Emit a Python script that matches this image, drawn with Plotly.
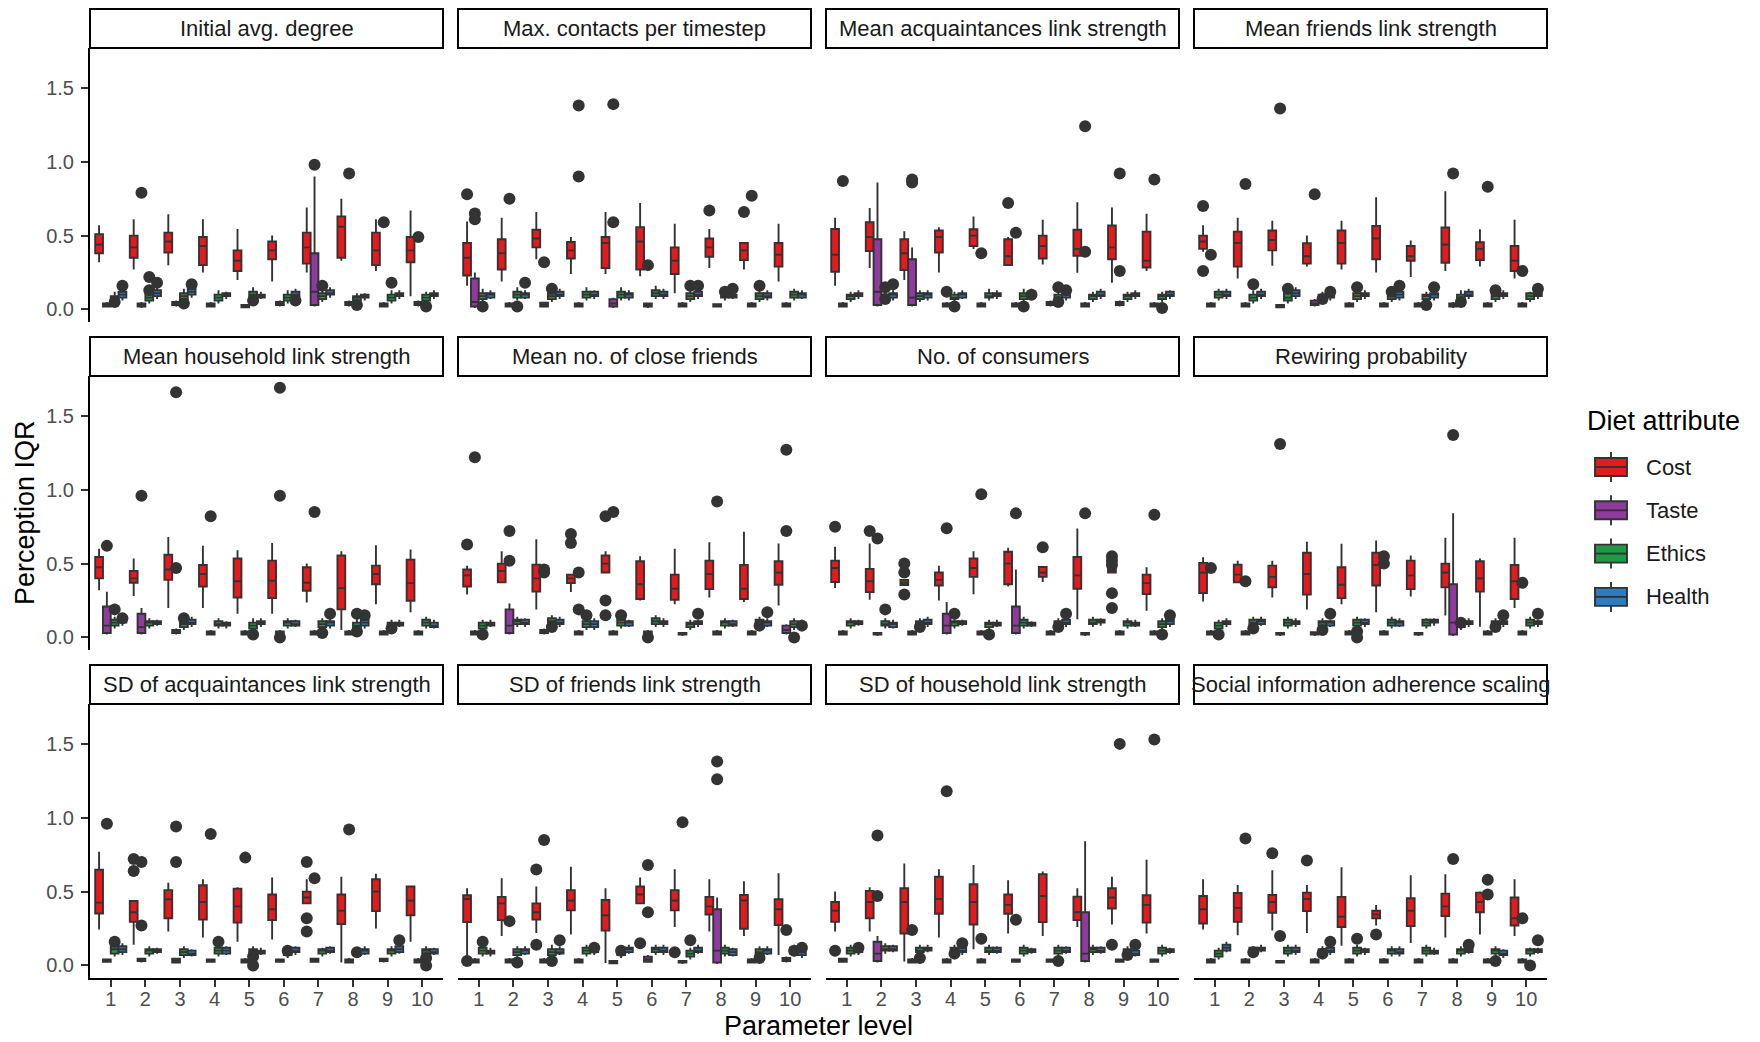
import plotly.graph_objects as go

# ---------------- data ----------------
PANELS = ["Initial avg. degree", "Max. contacts per timestep", "Mean acquaintances link strength",
          "Mean friends link strength", "Mean household link strength", "Mean no. of close friends",
          "No. of consumers", "Rewiring probability", "SD of acquaintances link strength",
          "SD of friends link strength", "SD of household link strength",
          "Social information adherence scaling"]
LEVELS = ["1", "2", "3", "4", "5", "6", "7", "8", "9", "10"]
ATTRIBUTES = ["Cost", "Taste", "Ethics", "Health"]
Y_TICKS = [0.0, 0.5, 1.0, 1.5]
Y_TICK_TEXT = ["0.0", "0.5", "1.0", "1.5"]

# per panel, per level: (lower whisker, q1, median, q3, upper whisker)
COST = [
    [(0.32, 0.38, 0.44, 0.51, 0.57), (0.27, 0.35, 0.42, 0.50, 0.61), (0.30, 0.385, 0.46, 0.52, 0.645),
     (0.25, 0.30, 0.43, 0.49, 0.61), (0.20, 0.26, 0.33, 0.40, 0.545), (0.19, 0.34, 0.40, 0.46, 0.50),
     (0.25, 0.31, 0.42, 0.52, 0.69), (0.33, 0.35, 0.56, 0.63, 0.75), (0.26, 0.30, 0.40, 0.52, 0.61),
     (0.09, 0.32, 0.40, 0.49, 0.67)],
    [(0.16, 0.23, 0.35, 0.45, 0.595), (0.19, 0.27, 0.38, 0.475, 0.62), (0.34, 0.42, 0.48, 0.54, 0.66),
     (0.24, 0.345, 0.40, 0.457, 0.49), (0.24, 0.28, 0.45, 0.49, 0.66), (0.225, 0.27, 0.46, 0.557, 0.72),
     (0.11, 0.24, 0.33, 0.42, 0.58), (0.28, 0.357, 0.42, 0.48, 0.545), (0.27, 0.334, 0.40, 0.45, 0.45),
     (0.19, 0.29, 0.37, 0.45, 0.58)],
    [(0.16, 0.255, 0.37, 0.545, 0.62), (0.28, 0.395, 0.49, 0.59, 0.686), (0.20, 0.266, 0.38, 0.475, 0.53),
     (0.25, 0.386, 0.49, 0.534, 0.557), (0.41, 0.43, 0.50, 0.543, 0.63), (0.30, 0.30, 0.36, 0.475, 0.49),
     (0.305, 0.345, 0.43, 0.50, 0.607), (0.248, 0.364, 0.41, 0.54, 0.725), (0.18, 0.34, 0.42, 0.568, 0.69),
     (0.26, 0.284, 0.33, 0.527, 0.648)],
    [(0.39, 0.41, 0.46, 0.50, 0.57), (0.21, 0.29, 0.45, 0.527, 0.62), (0.295, 0.40, 0.47, 0.534, 0.60),
     (0.29, 0.31, 0.36, 0.448, 0.50), (0.27, 0.31, 0.45, 0.534, 0.60), (0.25, 0.34, 0.48, 0.566, 0.76),
     (0.22, 0.33, 0.36, 0.43, 0.466), (0.26, 0.316, 0.44, 0.555, 0.80), (0.29, 0.334, 0.41, 0.455, 0.543),
     (0.21, 0.26, 0.33, 0.43, 0.607)],
    [(0.32, 0.40, 0.475, 0.545, 0.60), (0.28, 0.37, 0.40, 0.45, 0.534), (0.20, 0.39, 0.46, 0.56, 0.68),
     (0.20, 0.345, 0.43, 0.49, 0.62), (0.16, 0.27, 0.38, 0.534, 0.59), (0.16, 0.266, 0.384, 0.52, 0.64),
     (0.236, 0.316, 0.37, 0.475, 0.50), (0.05, 0.19, 0.334, 0.555, 0.584), (0.225, 0.36, 0.43, 0.486, 0.625),
     (0.17, 0.248, 0.368, 0.527, 0.595)],
    [(0.29, 0.345, 0.42, 0.46, 0.486), (0.373, 0.373, 0.45, 0.50, 0.584), (0.19, 0.31, 0.40, 0.493, 0.664),
     (0.307, 0.368, 0.40, 0.425, 0.425), (0.44, 0.44, 0.50, 0.555, 0.584), (0.25, 0.26, 0.36, 0.516, 0.55),
     (0.225, 0.255, 0.33, 0.425, 0.60), (0.27, 0.327, 0.43, 0.52, 0.645), (0.24, 0.26, 0.33, 0.49, 0.716),
     (0.216, 0.357, 0.44, 0.516, 0.636)],
    [(0.334, 0.375, 0.47, 0.52, 0.614), (0.255, 0.307, 0.38, 0.464, 0.636), (0.35, 0.355, 0.37, 0.39, 0.39),
     (0.25, 0.352, 0.39, 0.44, 0.486), (0.293, 0.41, 0.47, 0.534, 0.584), (0.345, 0.36, 0.50, 0.58, 0.607),
     (0.375, 0.41, 0.44, 0.477, 0.477), (0.123, 0.33, 0.42, 0.545, 0.738), (0.44, 0.44, 0.455, 0.47, 0.47),
     (0.18, 0.293, 0.368, 0.425, 0.475)],
    [(0.243, 0.30, 0.44, 0.505, 0.543), (0.373, 0.373, 0.425, 0.493, 0.52), (0.27, 0.34, 0.41, 0.486, 0.52),
     (0.19, 0.29, 0.43, 0.573, 0.648), (0.225, 0.266, 0.357, 0.475, 0.634), (0.17, 0.352, 0.49, 0.573, 0.657),
     (0.277, 0.327, 0.42, 0.52, 0.555), (0.148, 0.34, 0.44, 0.50, 0.675), (0.073, 0.31, 0.40, 0.516, 0.534),
     (0.20, 0.26, 0.38, 0.49, 0.675)],
    [(0.243, 0.352, 0.425, 0.648, 0.77), (0.14, 0.295, 0.36, 0.436, 0.443), (0.23, 0.32, 0.448, 0.51, 0.56),
     (0.19, 0.31, 0.43, 0.543, 0.584), (0.16, 0.29, 0.40, 0.52, 0.53), (0.175, 0.307, 0.38, 0.48, 0.595),
     (0.42, 0.42, 0.46, 0.50, 0.584), (0.02, 0.28, 0.37, 0.48, 0.60), (0.25, 0.368, 0.50, 0.584, 0.62),
     (0.16, 0.34, 0.44, 0.534, 0.54)],
    [(0.04, 0.293, 0.45, 0.475, 0.523), (0.20, 0.307, 0.42, 0.464, 0.59), (0.22, 0.31, 0.36, 0.42, 0.534),
     (0.21, 0.373, 0.44, 0.51, 0.668), (0.016, 0.236, 0.34, 0.443, 0.523), (0.42, 0.42, 0.48, 0.534, 0.595),
     (0.26, 0.373, 0.44, 0.51, 0.652), (0.23, 0.345, 0.40, 0.464, 0.584), (0.20, 0.248, 0.44, 0.477, 0.57),
     (0.07, 0.273, 0.38, 0.448, 0.625)],
    [(0.23, 0.295, 0.37, 0.43, 0.50), (0.23, 0.32, 0.43, 0.505, 0.53), (0.027, 0.216, 0.43, 0.523, 0.69),
     (0.19, 0.35, 0.45, 0.60, 0.652), (0.11, 0.277, 0.43, 0.55, 0.68), (0.216, 0.35, 0.41, 0.48, 0.577),
     (0.20, 0.293, 0.47, 0.618, 0.636), (0.26, 0.307, 0.36, 0.466, 0.523), (0.277, 0.386, 0.46, 0.523, 0.60),
     (0.216, 0.29, 0.41, 0.475, 0.716)],
    [(0.243, 0.284, 0.38, 0.47, 0.584), (0.205, 0.295, 0.39, 0.49, 0.545), (0.236, 0.357, 0.43, 0.477, 0.645),
     (0.22, 0.368, 0.45, 0.493, 0.545), (0.134, 0.26, 0.33, 0.464, 0.664), (0.27, 0.32, 0.345, 0.37, 0.41),
     (0.152, 0.266, 0.37, 0.455, 0.61), (0.19, 0.334, 0.40, 0.486, 0.618), (0.21, 0.36, 0.43, 0.493, 0.50),
     (0.20, 0.27, 0.32, 0.46, 0.584)],
]

TASTE = [
    [(0.015, 0.02, 0.03, 0.04, 0.05), (0.01, 0.02, 0.025, 0.04, 0.05), (0.02, 0.03, 0.04, 0.05, 0.06),
     (0.015, 0.02, 0.03, 0.04, 0.05), (0.01, 0.015, 0.02, 0.03, 0.035), (0.02, 0.03, 0.04, 0.05, 0.06),
     (0.02, 0.03, 0.12, 0.38, 0.90), (0.02, 0.03, 0.04, 0.05, 0.06), (0.015, 0.02, 0.03, 0.04, 0.05),
     (0.02, 0.03, 0.04, 0.05, 0.06)],
    [(0.01, 0.02, 0.05, 0.21, 0.25), (0.015, 0.02, 0.03, 0.04, 0.05), (0.015, 0.02, 0.03, 0.045, 0.05),
     (0.015, 0.02, 0.03, 0.04, 0.05), (0.01, 0.02, 0.04, 0.07, 0.08), (0.01, 0.02, 0.03, 0.04, 0.045),
     (0.015, 0.02, 0.03, 0.04, 0.05), (0.015, 0.02, 0.03, 0.035, 0.04), (0.015, 0.02, 0.03, 0.04, 0.05),
     (0.015, 0.02, 0.03, 0.04, 0.05)],
    [(0.015, 0.02, 0.03, 0.04, 0.05), (0.02, 0.03, 0.12, 0.475, 0.86), (0.02, 0.03, 0.08, 0.34, 0.42),
     (0.015, 0.02, 0.03, 0.04, 0.05), (0.015, 0.02, 0.03, 0.04, 0.05), (0.015, 0.02, 0.03, 0.04, 0.05),
     (0.02, 0.03, 0.04, 0.05, 0.06), (0.015, 0.02, 0.03, 0.04, 0.05), (0.02, 0.03, 0.04, 0.05, 0.06),
     (0.015, 0.02, 0.03, 0.04, 0.05)],
    [(0.015, 0.02, 0.03, 0.04, 0.05), (0.015, 0.02, 0.03, 0.04, 0.05), (0.01, 0.015, 0.02, 0.03, 0.035),
     (0.02, 0.03, 0.04, 0.06, 0.07), (0.015, 0.02, 0.03, 0.04, 0.05), (0.015, 0.02, 0.03, 0.04, 0.05),
     (0.015, 0.02, 0.03, 0.04, 0.05), (0.01, 0.02, 0.03, 0.04, 0.05), (0.015, 0.02, 0.03, 0.04, 0.05),
     (0.015, 0.02, 0.03, 0.04, 0.05)],
    [(0.02, 0.03, 0.08, 0.21, 0.31), (0.02, 0.03, 0.07, 0.16, 0.20), (0.02, 0.03, 0.04, 0.05, 0.06),
     (0.015, 0.02, 0.03, 0.04, 0.05), (0.015, 0.02, 0.03, 0.04, 0.05), (0.015, 0.02, 0.03, 0.04, 0.05),
     (0.015, 0.02, 0.03, 0.04, 0.05), (0.015, 0.02, 0.03, 0.04, 0.05), (0.015, 0.02, 0.03, 0.04, 0.05),
     (0.015, 0.02, 0.03, 0.04, 0.05)],
    [(0.015, 0.02, 0.03, 0.04, 0.05), (0.02, 0.03, 0.08, 0.19, 0.23), (0.02, 0.03, 0.04, 0.05, 0.06),
     (0.015, 0.02, 0.03, 0.04, 0.05), (0.015, 0.02, 0.03, 0.04, 0.05), (0.015, 0.02, 0.03, 0.04, 0.05),
     (0.01, 0.02, 0.025, 0.03, 0.035), (0.015, 0.02, 0.03, 0.04, 0.05), (0.015, 0.02, 0.03, 0.04, 0.05),
     (0.02, 0.03, 0.05, 0.08, 0.09)],
    [(0.015, 0.02, 0.03, 0.04, 0.05), (0.01, 0.02, 0.025, 0.03, 0.035), (0.015, 0.02, 0.03, 0.04, 0.05),
     (0.02, 0.03, 0.08, 0.16, 0.24), (0.015, 0.02, 0.03, 0.04, 0.05), (0.02, 0.03, 0.08, 0.21, 0.46),
     (0.015, 0.02, 0.03, 0.04, 0.05), (0.01, 0.02, 0.025, 0.03, 0.035), (0.015, 0.02, 0.03, 0.04, 0.05),
     (0.015, 0.02, 0.03, 0.04, 0.05)],
    [(0.015, 0.02, 0.03, 0.04, 0.05), (0.015, 0.02, 0.03, 0.04, 0.05), (0.01, 0.02, 0.025, 0.03, 0.035),
     (0.01, 0.02, 0.025, 0.035, 0.04), (0.015, 0.02, 0.03, 0.04, 0.05), (0.015, 0.02, 0.03, 0.04, 0.05),
     (0.01, 0.02, 0.025, 0.03, 0.035), (0.01, 0.02, 0.10, 0.36, 0.84), (0.015, 0.02, 0.03, 0.04, 0.05),
     (0.015, 0.02, 0.03, 0.04, 0.05)],
    [(0.02, 0.025, 0.03, 0.04, 0.045), (0.02, 0.03, 0.04, 0.045, 0.05), (0.015, 0.02, 0.03, 0.045, 0.05),
     (0.02, 0.025, 0.03, 0.04, 0.045), (0.015, 0.02, 0.03, 0.04, 0.05), (0.02, 0.025, 0.03, 0.04, 0.045),
     (0.02, 0.025, 0.03, 0.045, 0.05), (0.015, 0.02, 0.03, 0.04, 0.05), (0.02, 0.03, 0.04, 0.045, 0.05),
     (0.015, 0.02, 0.03, 0.04, 0.05)],
    [(0.015, 0.02, 0.03, 0.04, 0.05), (0.015, 0.02, 0.03, 0.04, 0.05), (0.015, 0.02, 0.03, 0.04, 0.05),
     (0.015, 0.02, 0.03, 0.04, 0.05), (0.01, 0.015, 0.02, 0.03, 0.035), (0.02, 0.025, 0.04, 0.06, 0.07),
     (0.01, 0.02, 0.025, 0.03, 0.035), (0.01, 0.02, 0.10, 0.38, 0.46), (0.015, 0.02, 0.03, 0.04, 0.05),
     (0.02, 0.03, 0.04, 0.05, 0.06)],
    [(0.02, 0.025, 0.03, 0.045, 0.05), (0.02, 0.03, 0.08, 0.16, 0.20), (0.015, 0.02, 0.03, 0.04, 0.05),
     (0.015, 0.02, 0.03, 0.04, 0.05), (0.015, 0.02, 0.03, 0.04, 0.05), (0.02, 0.025, 0.03, 0.04, 0.045),
     (0.02, 0.025, 0.03, 0.04, 0.045), (0.02, 0.03, 0.08, 0.36, 0.84), (0.02, 0.025, 0.03, 0.04, 0.045),
     (0.02, 0.025, 0.03, 0.04, 0.045)],
    [(0.015, 0.02, 0.03, 0.04, 0.05), (0.015, 0.02, 0.03, 0.04, 0.05), (0.015, 0.02, 0.025, 0.03, 0.035),
     (0.015, 0.02, 0.03, 0.04, 0.05), (0.015, 0.02, 0.03, 0.04, 0.05), (0.015, 0.02, 0.03, 0.04, 0.05),
     (0.015, 0.02, 0.03, 0.04, 0.05), (0.015, 0.02, 0.03, 0.04, 0.05), (0.015, 0.02, 0.03, 0.04, 0.05),
     (0.015, 0.02, 0.03, 0.04, 0.05)],
]

ETHICS = [
    [(0.03, 0.05, 0.07, 0.09, 0.12), (0.04, 0.06, 0.08, 0.11, 0.14), (0.05, 0.07, 0.09, 0.11, 0.14),
     (0.04, 0.06, 0.08, 0.10, 0.13), (0.06, 0.08, 0.10, 0.12, 0.15), (0.04, 0.06, 0.08, 0.10, 0.13),
     (0.05, 0.07, 0.09, 0.11, 0.14), (0.05, 0.06, 0.08, 0.09, 0.11), (0.04, 0.06, 0.08, 0.10, 0.13),
     (0.04, 0.06, 0.08, 0.10, 0.12)],
    [(0.05, 0.07, 0.09, 0.11, 0.14), (0.06, 0.08, 0.10, 0.12, 0.15), (0.05, 0.07, 0.09, 0.11, 0.14),
     (0.06, 0.08, 0.10, 0.12, 0.15), (0.06, 0.08, 0.10, 0.12, 0.15), (0.07, 0.09, 0.11, 0.13, 0.16),
     (0.05, 0.07, 0.09, 0.11, 0.13), (0.06, 0.08, 0.10, 0.11, 0.13), (0.05, 0.07, 0.09, 0.11, 0.14),
     (0.06, 0.08, 0.10, 0.12, 0.14)],
    [(0.05, 0.07, 0.09, 0.10, 0.12), (0.04, 0.06, 0.08, 0.10, 0.12), (0.05, 0.07, 0.09, 0.11, 0.13),
     (0.05, 0.07, 0.08, 0.10, 0.12), (0.06, 0.08, 0.09, 0.11, 0.14), (0.05, 0.07, 0.09, 0.11, 0.14),
     (0.04, 0.06, 0.08, 0.10, 0.13), (0.05, 0.07, 0.09, 0.10, 0.12), (0.05, 0.07, 0.09, 0.10, 0.12),
     (0.05, 0.07, 0.09, 0.10, 0.12)],
    [(0.06, 0.08, 0.10, 0.12, 0.14), (0.04, 0.06, 0.08, 0.10, 0.13), (0.04, 0.06, 0.08, 0.11, 0.14),
     (0.05, 0.07, 0.09, 0.10, 0.12), (0.05, 0.07, 0.09, 0.11, 0.13), (0.05, 0.07, 0.09, 0.11, 0.13),
     (0.05, 0.07, 0.09, 0.10, 0.12), (0.04, 0.06, 0.08, 0.10, 0.13), (0.05, 0.07, 0.09, 0.11, 0.13),
     (0.05, 0.07, 0.09, 0.11, 0.12)],
    [(0.06, 0.08, 0.10, 0.12, 0.14), (0.06, 0.08, 0.10, 0.11, 0.13), (0.05, 0.07, 0.09, 0.11, 0.14),
     (0.06, 0.08, 0.09, 0.11, 0.13), (0.04, 0.06, 0.08, 0.10, 0.13), (0.06, 0.08, 0.10, 0.11, 0.13),
     (0.05, 0.07, 0.09, 0.11, 0.13), (0.04, 0.06, 0.08, 0.10, 0.13), (0.05, 0.07, 0.09, 0.10, 0.12),
     (0.06, 0.08, 0.10, 0.12, 0.14)],
    [(0.04, 0.06, 0.08, 0.10, 0.12), (0.07, 0.09, 0.11, 0.12, 0.14), (0.08, 0.10, 0.11, 0.13, 0.15),
     (0.05, 0.07, 0.09, 0.11, 0.13), (0.06, 0.08, 0.10, 0.12, 0.14), (0.07, 0.09, 0.11, 0.13, 0.15),
     (0.05, 0.07, 0.09, 0.10, 0.12), (0.06, 0.08, 0.10, 0.11, 0.13), (0.06, 0.08, 0.10, 0.12, 0.14),
     (0.05, 0.07, 0.09, 0.11, 0.13)],
    [(0.06, 0.08, 0.10, 0.11, 0.13), (0.06, 0.08, 0.09, 0.11, 0.13), (0.05, 0.07, 0.09, 0.11, 0.13),
     (0.06, 0.08, 0.10, 0.11, 0.13), (0.05, 0.07, 0.09, 0.10, 0.12), (0.06, 0.08, 0.10, 0.12, 0.14),
     (0.05, 0.07, 0.09, 0.11, 0.13), (0.07, 0.09, 0.10, 0.12, 0.14), (0.06, 0.08, 0.10, 0.11, 0.13),
     (0.05, 0.07, 0.09, 0.11, 0.13)],
    [(0.04, 0.06, 0.08, 0.10, 0.12), (0.06, 0.08, 0.10, 0.12, 0.14), (0.06, 0.08, 0.10, 0.12, 0.14),
     (0.06, 0.08, 0.10, 0.11, 0.13), (0.06, 0.08, 0.10, 0.12, 0.14), (0.06, 0.08, 0.10, 0.12, 0.14),
     (0.06, 0.08, 0.10, 0.12, 0.13), (0.05, 0.07, 0.09, 0.11, 0.12), (0.06, 0.08, 0.10, 0.11, 0.13),
     (0.06, 0.08, 0.10, 0.12, 0.14)],
    [(0.06, 0.08, 0.11, 0.13, 0.15), (0.06, 0.08, 0.10, 0.11, 0.13), (0.05, 0.07, 0.09, 0.11, 0.13),
     (0.06, 0.08, 0.10, 0.12, 0.14), (0.06, 0.08, 0.10, 0.11, 0.13), (0.05, 0.07, 0.09, 0.11, 0.13),
     (0.06, 0.08, 0.10, 0.11, 0.12), (0.05, 0.07, 0.09, 0.10, 0.12), (0.06, 0.08, 0.10, 0.11, 0.13),
     (0.06, 0.08, 0.10, 0.11, 0.13)],
    [(0.06, 0.08, 0.10, 0.12, 0.14), (0.05, 0.07, 0.09, 0.11, 0.13), (0.05, 0.07, 0.09, 0.11, 0.14),
     (0.06, 0.08, 0.10, 0.12, 0.14), (0.05, 0.07, 0.09, 0.11, 0.13), (0.07, 0.09, 0.11, 0.12, 0.14),
     (0.04, 0.06, 0.08, 0.10, 0.12), (0.06, 0.08, 0.10, 0.12, 0.14), (0.05, 0.07, 0.09, 0.11, 0.13),
     (0.06, 0.08, 0.10, 0.12, 0.14)],
    [(0.06, 0.08, 0.10, 0.12, 0.14), (0.08, 0.10, 0.11, 0.13, 0.15), (0.07, 0.09, 0.10, 0.12, 0.14),
     (0.08, 0.09, 0.11, 0.12, 0.14), (0.07, 0.09, 0.10, 0.12, 0.14), (0.06, 0.08, 0.10, 0.12, 0.14),
     (0.06, 0.08, 0.10, 0.12, 0.14), (0.07, 0.09, 0.11, 0.12, 0.14), (0.06, 0.08, 0.10, 0.11, 0.13),
     (0.06, 0.08, 0.10, 0.12, 0.14)],
    [(0.04, 0.06, 0.08, 0.10, 0.12), (0.07, 0.09, 0.10, 0.12, 0.13), (0.06, 0.08, 0.10, 0.12, 0.14),
     (0.05, 0.07, 0.09, 0.11, 0.13), (0.06, 0.08, 0.10, 0.12, 0.14), (0.06, 0.08, 0.10, 0.11, 0.13),
     (0.06, 0.08, 0.10, 0.12, 0.14), (0.06, 0.08, 0.10, 0.11, 0.13), (0.06, 0.08, 0.10, 0.11, 0.13),
     (0.06, 0.08, 0.10, 0.11, 0.12)],
]

HEALTH = [
    [(0.06, 0.08, 0.10, 0.12, 0.15), (0.07, 0.09, 0.11, 0.13, 0.16), (0.08, 0.10, 0.12, 0.14, 0.17),
     (0.07, 0.09, 0.10, 0.11, 0.12), (0.07, 0.08, 0.09, 0.10, 0.12), (0.07, 0.09, 0.10, 0.12, 0.14),
     (0.08, 0.10, 0.11, 0.13, 0.15), (0.06, 0.08, 0.09, 0.10, 0.11), (0.07, 0.09, 0.10, 0.11, 0.13),
     (0.07, 0.09, 0.10, 0.11, 0.13)],
    [(0.07, 0.08, 0.10, 0.11, 0.13), (0.07, 0.08, 0.10, 0.11, 0.13), (0.07, 0.09, 0.10, 0.12, 0.14),
     (0.07, 0.09, 0.10, 0.12, 0.13), (0.06, 0.08, 0.10, 0.11, 0.13), (0.07, 0.09, 0.10, 0.12, 0.14),
     (0.07, 0.09, 0.10, 0.12, 0.13), (0.07, 0.08, 0.09, 0.10, 0.12), (0.06, 0.08, 0.09, 0.11, 0.13),
     (0.07, 0.08, 0.10, 0.11, 0.13)],
    [(0.07, 0.09, 0.10, 0.11, 0.13), (0.06, 0.08, 0.10, 0.11, 0.13), (0.06, 0.08, 0.10, 0.11, 0.13),
     (0.07, 0.08, 0.10, 0.11, 0.13), (0.07, 0.09, 0.10, 0.11, 0.13), (0.07, 0.09, 0.10, 0.12, 0.14),
     (0.06, 0.08, 0.10, 0.11, 0.13), (0.07, 0.09, 0.10, 0.12, 0.14), (0.07, 0.09, 0.10, 0.11, 0.13),
     (0.07, 0.09, 0.10, 0.12, 0.13)],
    [(0.07, 0.09, 0.10, 0.12, 0.14), (0.07, 0.09, 0.10, 0.12, 0.14), (0.07, 0.09, 0.11, 0.13, 0.15),
     (0.06, 0.08, 0.10, 0.11, 0.13), (0.07, 0.09, 0.10, 0.11, 0.13), (0.06, 0.08, 0.10, 0.12, 0.14),
     (0.06, 0.08, 0.10, 0.11, 0.13), (0.07, 0.09, 0.10, 0.12, 0.14), (0.07, 0.09, 0.10, 0.11, 0.13),
     (0.07, 0.09, 0.10, 0.12, 0.14)],
    [(0.08, 0.10, 0.11, 0.12, 0.13), (0.08, 0.09, 0.10, 0.11, 0.12), (0.07, 0.09, 0.10, 0.12, 0.14),
     (0.06, 0.08, 0.09, 0.10, 0.11), (0.07, 0.09, 0.10, 0.11, 0.13), (0.07, 0.08, 0.09, 0.11, 0.12),
     (0.06, 0.08, 0.10, 0.11, 0.13), (0.06, 0.08, 0.10, 0.12, 0.14), (0.07, 0.08, 0.09, 0.10, 0.12),
     (0.06, 0.07, 0.08, 0.10, 0.12)],
    [(0.07, 0.08, 0.09, 0.10, 0.12), (0.07, 0.09, 0.10, 0.12, 0.13), (0.07, 0.09, 0.10, 0.12, 0.14),
     (0.05, 0.07, 0.09, 0.11, 0.13), (0.07, 0.08, 0.10, 0.11, 0.12), (0.07, 0.09, 0.10, 0.11, 0.13),
     (0.07, 0.09, 0.10, 0.11, 0.12), (0.07, 0.08, 0.09, 0.11, 0.12), (0.07, 0.08, 0.10, 0.11, 0.13),
     (0.07, 0.08, 0.09, 0.10, 0.12)],
    [(0.08, 0.09, 0.10, 0.11, 0.12), (0.06, 0.07, 0.09, 0.10, 0.12), (0.07, 0.09, 0.10, 0.12, 0.14),
     (0.08, 0.09, 0.10, 0.11, 0.12), (0.07, 0.08, 0.09, 0.10, 0.12), (0.07, 0.08, 0.09, 0.10, 0.11),
     (0.07, 0.09, 0.10, 0.12, 0.14), (0.08, 0.10, 0.11, 0.12, 0.13), (0.07, 0.08, 0.09, 0.10, 0.12),
     (0.07, 0.09, 0.11, 0.12, 0.13)],
    [(0.07, 0.09, 0.10, 0.11, 0.13), (0.08, 0.09, 0.11, 0.12, 0.14), (0.07, 0.09, 0.10, 0.11, 0.13),
     (0.07, 0.08, 0.10, 0.11, 0.12), (0.07, 0.09, 0.10, 0.12, 0.13), (0.07, 0.08, 0.10, 0.11, 0.13),
     (0.08, 0.10, 0.11, 0.12, 0.13), (0.07, 0.09, 0.10, 0.11, 0.13), (0.07, 0.09, 0.10, 0.11, 0.12),
     (0.07, 0.09, 0.10, 0.11, 0.12)],
    [(0.07, 0.09, 0.11, 0.13, 0.15), (0.08, 0.09, 0.10, 0.11, 0.12), (0.06, 0.07, 0.08, 0.10, 0.11),
     (0.07, 0.08, 0.10, 0.12, 0.13), (0.07, 0.08, 0.09, 0.10, 0.12), (0.07, 0.09, 0.10, 0.12, 0.13),
     (0.08, 0.09, 0.10, 0.12, 0.13), (0.07, 0.08, 0.10, 0.11, 0.13), (0.08, 0.09, 0.11, 0.13, 0.14),
     (0.07, 0.08, 0.09, 0.11, 0.12)],
    [(0.06, 0.08, 0.09, 0.10, 0.12), (0.07, 0.08, 0.10, 0.11, 0.13), (0.07, 0.08, 0.09, 0.11, 0.13),
     (0.07, 0.09, 0.10, 0.12, 0.14), (0.08, 0.09, 0.11, 0.12, 0.14), (0.07, 0.09, 0.10, 0.12, 0.14),
     (0.08, 0.09, 0.10, 0.12, 0.14), (0.06, 0.07, 0.09, 0.11, 0.12), (0.07, 0.08, 0.10, 0.11, 0.13),
     (0.05, 0.07, 0.09, 0.10, 0.12)],
    [(0.07, 0.09, 0.10, 0.12, 0.14), (0.09, 0.10, 0.11, 0.13, 0.14), (0.09, 0.10, 0.11, 0.12, 0.14),
     (0.07, 0.09, 0.10, 0.12, 0.14), (0.08, 0.09, 0.10, 0.12, 0.13), (0.08, 0.09, 0.10, 0.11, 0.12),
     (0.08, 0.09, 0.10, 0.12, 0.13), (0.08, 0.09, 0.10, 0.12, 0.13), (0.06, 0.07, 0.08, 0.10, 0.12),
     (0.08, 0.09, 0.10, 0.11, 0.12)],
    [(0.09, 0.10, 0.12, 0.14, 0.16), (0.09, 0.10, 0.11, 0.12, 0.14), (0.07, 0.09, 0.10, 0.12, 0.14),
     (0.07, 0.09, 0.10, 0.12, 0.14), (0.07, 0.09, 0.10, 0.11, 0.12), (0.06, 0.08, 0.09, 0.11, 0.13),
     (0.07, 0.08, 0.09, 0.10, 0.12), (0.08, 0.09, 0.10, 0.12, 0.13), (0.05, 0.07, 0.08, 0.10, 0.11),
     (0.08, 0.09, 0.10, 0.11, 0.12)],
]

# outliers: (panel index, level, value)
COST_OUT = [(1, 1, 0.78), (1, 8, 0.67), (1, 9, 0.66), (2, 6, 0.72), (3, 1, 0.70), (3, 1, 0.26),
            (5, 1, 0.63), (5, 4, 0.70), (5, 4, 0.64), (5, 5, 0.25), (5, 5, 0.15), (5, 5, 0.82),
            (6, 1, 0.75), (6, 2, 0.72), (6, 3, 0.50), (6, 3, 0.44), (6, 3, 0.29), (6, 7, 0.61),
            (6, 9, 0.55), (6, 9, 0.52), (6, 9, 0.49), (6, 9, 0.30), (6, 9, 0.20),
            (8, 2, 0.72), (8, 2, 0.64), (8, 7, 0.70), (8, 7, 0.32), (8, 7, 0.23),
            (9, 1, 0.03), (9, 3, 0.65), (9, 3, 0.14), (9, 6, 0.15), (9, 7, 0.09),
            (10, 1, 0.10), (10, 9, 0.14), (11, 3, 0.76), (11, 4, 0.71), (11, 6, 0.21)]

TASTE_OUT = [(0, 2, 0.79), (0, 7, 0.98), (0, 8, 0.92), (0, 9, 0.59), (0, 10, 0.49),
             (1, 1, 0.65), (1, 1, 0.61), (1, 2, 0.75), (1, 3, 0.32), (1, 4, 1.38), (1, 4, 0.90),
             (1, 5, 1.39), (1, 5, 0.59), (1, 6, 0.30), (1, 9, 0.77),
             (2, 1, 0.87), (2, 3, 0.86), (2, 3, 0.88), (2, 4, 0.12), (2, 5, 0.38), (2, 6, 0.52),
             (2, 8, 1.24), (2, 8, 0.39), (2, 9, 0.92), (2, 9, 0.26), (2, 10, 0.88),
             (3, 1, 0.37), (3, 2, 0.85), (3, 3, 1.36), (3, 4, 0.78), (3, 8, 0.92), (3, 9, 0.83), (3, 10, 0.26),
             (4, 1, 0.62), (4, 2, 0.96), (4, 3, 1.66), (4, 3, 0.47), (4, 4, 0.82), (4, 6, 1.69),
             (4, 6, 0.96), (4, 6, 0.0), (4, 7, 0.85),
             (5, 1, 1.22), (5, 2, 0.72), (5, 2, 0.52), (5, 3, 0.46), (5, 3, 0.44), (5, 4, 0.44),
             (5, 4, 0.19), (5, 5, 0.85), (5, 6, 0.0), (5, 8, 0.92), (5, 10, 1.27), (5, 10, 0.72),
             (6, 2, 0.67), (6, 4, 0.74), (6, 5, 0.97), (6, 6, 0.84), (6, 8, 0.84), (6, 10, 0.83),
             (7, 1, 0.47), (7, 2, 0.38), (7, 3, 1.31), (7, 6, 0.55), (7, 6, 0.50), (7, 8, 1.37), (7, 10, 0.37),
             (8, 1, 0.96), (8, 2, 0.70), (8, 2, 0.27), (8, 3, 0.94), (8, 3, 0.70), (8, 4, 0.89),
             (8, 5, 0.73), (8, 7, 0.59), (8, 8, 0.92),
             (9, 2, 0.30), (9, 3, 0.85), (9, 6, 0.68), (9, 6, 0.36), (9, 7, 0.97), (9, 8, 1.38),
             (9, 8, 1.26), (9, 10, 0.24),
             (10, 2, 0.88), (10, 2, 0.47), (10, 3, 0.24), (10, 4, 1.18), (10, 5, 0.18), (10, 6, 0.31),
             (10, 9, 1.50), (10, 10, 1.53),
             (11, 2, 0.86), (11, 3, 0.20), (11, 8, 0.72), (11, 9, 0.58), (11, 9, 0.48), (11, 10, 0.32)]

ETHICS_OUT = [(0, 1, 0.05), (0, 2, 0.22), (0, 2, 0.13), (0, 3, 0.04), (0, 5, 0.06), (0, 7, 0.16),
              (0, 8, 0.03), (0, 9, 0.18), (0, 10, 0.02),
              (1, 1, 0.02), (1, 2, 0.02), (1, 3, 0.14), (1, 7, 0.16), (1, 8, 0.12), (1, 9, 0.16),
              (2, 2, 0.15), (2, 2, 0.07), (2, 4, 0.02), (2, 6, 0.02), (2, 7, 0.15), (2, 7, 0.05), (2, 10, 0.01),
              (3, 2, 0.17), (3, 3, 0.14), (3, 4, 0.07), (3, 5, 0.15), (3, 6, 0.12), (3, 7, 0.03),
              (3, 8, 0.05), (3, 9, 0.13),
              (4, 1, 0.19), (4, 3, 0.13), (4, 5, 0.02), (4, 7, 0.03), (4, 8, 0.16), (4, 8, 0.04), (4, 9, 0.06),
              (5, 1, 0.02), (5, 3, 0.07), (5, 4, 0.15), (5, 5, 0.15), (5, 9, 0.08), (5, 10, 0.0),
              (6, 2, 0.19), (6, 3, 0.07), (6, 4, 0.16), (6, 5, 0.02), (6, 7, 0.07), (6, 10, 0.02),
              (7, 1, 0.02), (7, 2, 0.06), (7, 4, 0.05), (7, 5, 0.0), (7, 5, 0.04), (7, 8, 0.1), (7, 9, 0.07),
              (8, 1, 0.16), (8, 4, 0.16), (8, 5, 0.06), (8, 5, 0.0), (8, 6, 0.1), (8, 8, 0.09), (8, 10, 0.05),
              (8, 10, 0.0),
              (9, 1, 0.16), (9, 2, 0.02), (9, 3, 0.03), (9, 5, 0.1), (9, 7, 0.17), (9, 9, 0.05), (9, 10, 0.1),
              (10, 3, 0.05), (10, 4, 0.08), (10, 7, 0.03), (10, 9, 0.07),
              (11, 2, 0.09), (11, 4, 0.08), (11, 5, 0.18), (11, 9, 0.03), (11, 10, 0.0)]

HEALTH_OUT = [(0, 1, 0.16), (0, 2, 0.18), (0, 3, 0.17), (0, 6, 0.06),
              (1, 2, 0.18), (1, 7, 0.16), (1, 8, 0.14),
              (2, 2, 0.17), (2, 7, 0.13), (2, 6, 0.1),
              (3, 4, 0.12), (3, 6, 0.16), (3, 7, 0.15), (3, 10, 0.14),
              (4, 1, 0.13), (4, 7, 0.16), (4, 8, 0.15),
              (5, 7, 0.16), (5, 9, 0.17), (5, 10, 0.08),
              (6, 7, 0.16), (6, 10, 0.15),
              (7, 4, 0.16), (7, 9, 0.15), (7, 10, 0.16),
              (8, 9, 0.17),
              (9, 3, 0.17), (9, 4, 0.12), (9, 10, 0.12),
              (10, 1, 0.12), (10, 4, 0.15), (10, 9, 0.14),
              (11, 4, 0.16), (11, 8, 0.14), (11, 10, 0.17)]

# ---------------- style ----------------
COLORS = {"Cost": "#E41A1C", "Taste": "#8E3A9E", "Ethics": "#1E9A45", "Health": "#2E7BBE"}
OUTLINE = "#333333"
FONT = "Liberation Sans, Arial, Helvetica, sans-serif"
STATS = {"Cost": COST, "Taste": TASTE, "Ethics": ETHICS, "Health": HEALTH}
OUTS = {"Cost": COST_OUT, "Taste": TASTE_OUT, "Ethics": ETHICS_OUT, "Health": HEALTH_OUT}

W, H = 1760, 1042
ML, MR, MT, MB = 90, 213, 9, 64
PW, PH = W - ML - MR, H - MT - MB
PANEL_W, GAP_X = 353, 15
PANEL_TOP0, PANEL_H, ROW_STEP, STRIP_H = 48, 274, 328, 39


def px_x(px):
    return (px - ML) / PW


def px_y(py):
    return (H - MB - py) / PH


fig = go.Figure()
layout = dict(
    width=W, height=H,
    margin=dict(l=ML, r=MR, t=MT, b=MB, autoexpand=False),
    paper_bgcolor="white", plot_bgcolor="white",
    boxmode="group", boxgap=0.1, boxgroupgap=0.0,
    showlegend=False,
    font=dict(family=FONT, color="#1a1a1a"),
)
shapes, annotations = [], []

for p, title in enumerate(PANELS):
    r, c = divmod(p, 4)
    s = "" if p == 0 else str(p + 1)
    x0 = c * (PANEL_W + GAP_X)
    top = PANEL_TOP0 + r * ROW_STEP
    bot = top + PANEL_H
    layout["xaxis" + s] = dict(
        domain=[x0 / PW, (x0 + PANEL_W) / PW], anchor="y" + s,
        type="category", categoryorder="array", categoryarray=LEVELS,
        range=[-0.6, 9.6], showgrid=False, zeroline=False,
        showline=(r == 2), linecolor="black", linewidth=2,
        ticks="outside" if r == 2 else "", ticklen=7, tickwidth=2, tickcolor=OUTLINE,
        ticklabelstandoff=-5,
        showticklabels=(r == 2), tickfont=dict(size=20, color="#4d4d4d", family=FONT),
        fixedrange=True,
    )
    layout["yaxis" + s] = dict(
        domain=[px_y(bot), px_y(top)], anchor="x" + s,
        range=[-0.085, 1.77], tickvals=Y_TICKS, ticktext=Y_TICK_TEXT,
        showgrid=False, zeroline=False,
        showline=(c == 0), linecolor="black", linewidth=2,
        ticks="outside" if c == 0 else "", ticklen=7, tickwidth=2, tickcolor=OUTLINE,
        ticklabelstandoff=3,
        showticklabels=(c == 0), tickfont=dict(size=20, color="#4d4d4d", family=FONT),
        fixedrange=True,
    )
    # strip
    shapes.append(dict(type="rect", xref="x%s domain" % s, yref="y%s domain" % s,
                       x0=0, x1=1, y0=1, y1=1 + STRIP_H / PANEL_H,
                       line=dict(color="black", width=2), fillcolor="white", layer="below"))
    annotations.append(dict(text=title, xref="x%s domain" % s, yref="y%s domain" % s,
                            x=0.5, y=1 + STRIP_H / 2 / PANEL_H, showarrow=False,
                            xanchor="center", yanchor="middle",
                            font=dict(size=22, color="#1a1a1a", family=FONT)))

    for a in ATTRIBUTES:
        st = STATS[a][p]
        fig.add_trace(go.Box(
            x=LEVELS,
            lowerfence=[v[0] for v in st], q1=[v[1] for v in st], median=[v[2] for v in st],
            q3=[v[3] for v in st], upperfence=[v[4] for v in st],
            name=a, offsetgroup=a, alignmentgroup="g",
            fillcolor=COLORS[a], line=dict(color=OUTLINE, width=1.9),
            whiskerwidth=0, boxpoints=False, hoverinfo="skip",
            xaxis="x" + s, yaxis="y" + s, showlegend=False,
        ))
        pts = [(LEVELS[l - 1], v) for (pp, l, v) in OUTS[a] if pp == p]
        if pts:
            fig.add_trace(go.Box(
                x=[q[0] for q in pts], y=[q[1] for q in pts],
                name=a + " outliers", offsetgroup=a, alignmentgroup="g",
                fillcolor="rgba(0,0,0,0)", line=dict(color="rgba(0,0,0,0)", width=0),
                boxpoints="all", jitter=0, pointpos=0, whiskerwidth=0,
                marker=dict(color=OUTLINE, size=12, line=dict(width=0)),
                hoverinfo="skip", xaxis="x" + s, yaxis="y" + s, showlegend=False,
            ))

# axis titles
annotations.append(dict(text="Perception IQR", xref="paper", yref="paper",
                        x=px_x(25), y=px_y(513), textangle=-90, showarrow=False,
                        xanchor="center", yanchor="middle",
                        font=dict(size=27, color="black", family=FONT)))
annotations.append(dict(text="Parameter level", xref="paper", yref="paper",
                        x=px_x(818), y=px_y(1026), showarrow=False,
                        xanchor="center", yanchor="middle",
                        font=dict(size=27, color="black", family=FONT)))

# legend (drawn)
annotations.append(dict(text="Diet attribute", xref="paper", yref="paper",
                        x=px_x(1585), y=px_y(421), showarrow=False,
                        xanchor="left", yanchor="middle",
                        font=dict(size=27, color="black", family=FONT)))
for i, a in enumerate(ATTRIBUTES):
    cy = 467 + i * 43.3
    kx0, kx1 = 1595, 1627
    kxm = (kx0 + kx1) / 2
    shapes.append(dict(type="line", xref="paper", yref="paper",
                       x0=px_x(kxm), x1=px_x(kxm), y0=px_y(cy - 15), y1=px_y(cy + 15),
                       line=dict(color=OUTLINE, width=1.9)))
    shapes.append(dict(type="rect", xref="paper", yref="paper",
                       x0=px_x(kx0), x1=px_x(kx1), y0=px_y(cy - 9), y1=px_y(cy + 9),
                       fillcolor=COLORS[a], line=dict(color=OUTLINE, width=1.9)))
    shapes.append(dict(type="line", xref="paper", yref="paper",
                       x0=px_x(kx0), x1=px_x(kx1), y0=px_y(cy), y1=px_y(cy),
                       line=dict(color=OUTLINE, width=1.9)))
    annotations.append(dict(text=a, xref="paper", yref="paper",
                            x=px_x(1644), y=px_y(cy), showarrow=False,
                            xanchor="left", yanchor="middle",
                            font=dict(size=22, color="#1a1a1a", family=FONT)))

layout["shapes"] = shapes
layout["annotations"] = annotations
fig.update_layout(**layout)
fig.write_html("out.html")
